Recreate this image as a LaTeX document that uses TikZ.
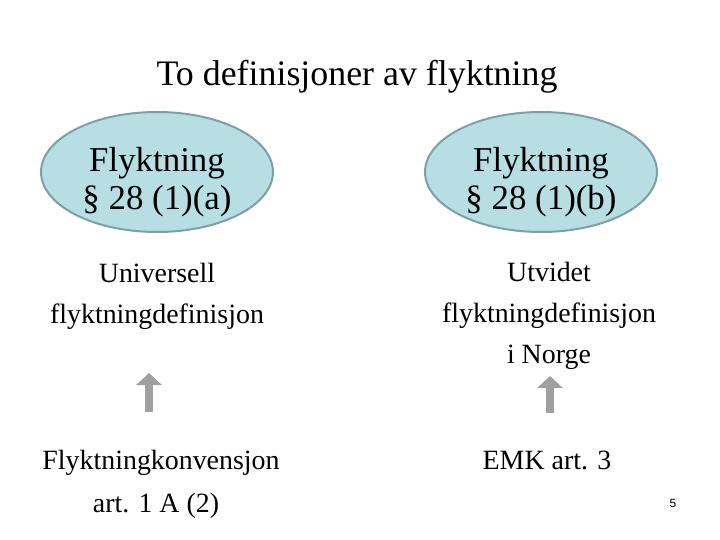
\documentclass[tikz,border=0pt]{standalone}
\usepackage{fontspec}
\setmainfont{Liberation Serif}
\setsansfont{Liberation Sans}
\usepackage{tikz}
\usetikzlibrary{shapes.geometric,arrows.meta,positioning}

\definecolor{ellfill}{RGB}{183,222,227}
\definecolor{ellline}{RGB}{125,160,166}
\definecolor{arrgray}{RGB}{160,160,160}

\begin{document}
\begin{tikzpicture}[x=1bp,y=-1bp,
    para/.style={ellipse,draw=ellline,line width=2bp,fill=ellfill,
      minimum width=232bp,minimum height=120bp,inner sep=0pt},
    paratxt/.style={align=center,inner sep=0pt,font=\fontsize{35}{38}\selectfont},
    txt/.style={align=center,inner sep=0pt,font=\fontsize{28}{41}\selectfont},
    uparrow/.style={draw=arrgray,line width=8bp,
      -{Triangle[width=25bp,length=12bp]}}]
      \useasboundingbox (0,0) rectangle (720,540);

      % title
      \node (title) at (357,77) {\fontsize{36}{40}\selectfont To definisjoner av flyktning};

      % the two paragraphs
      \node[para] (pa) at (157,172) {};
      \node[para] (pb) at (541,172) {};
      \node[paratxt] (patxt) at (157,182) {Flyktning\\\S\ 28 (1)(a)};
      \node[paratxt] (pbtxt) at (541,182) {Flyktning\\\S\ 28 (1)(b)};

      % what they mean
      \node[txt] (univ) at (157,296) {Universell\\flyktningdefinisjon};
      \node[txt] (utv) at (549,316) {Utvidet\\flyktningdefinisjon\\i Norge};

      % where they come from
      \node[txt] (konv) at (161,463) {Flyktningkonvensjon};
      \node[txt] (art) at (156,506) {art. 1 A (2)};
      \node[txt] (emk) at (547,460) {EMK art. 3};

      \coordinate (a1s) at (149,412);
      \coordinate (a1e) at (149,373);
      \coordinate (a2s) at (550,413);
      \coordinate (a2e) at (550,376);
      \draw[uparrow] (a1s) -- (a1e);
      \draw[uparrow] (a2s) -- (a2e);

      % slide number
      \node (num) at (673,503) {\sffamily\fontsize{12}{14}\selectfont 5};
\end{tikzpicture}
\end{document}
